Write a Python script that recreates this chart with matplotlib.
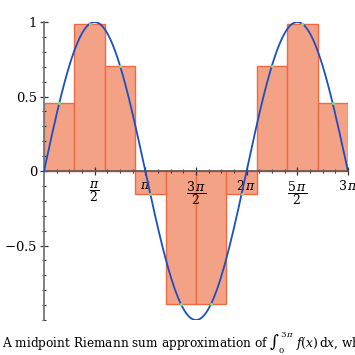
import numpy as np
import matplotlib
matplotlib.use("Agg")
import matplotlib.pyplot as plt
from matplotlib.ticker import FixedLocator, MultipleLocator

plt.rcParams['font.family'] = ['DejaVu Serif']
plt.rcParams['mathtext.fontset'] = 'dejavuserif'

# Data
n_intervals = 10
x_start, x_end = 0.0, 3 * np.pi
bar_heights = [0.454, 0.988, 0.707, -0.156, -0.891, -0.891, -0.156, 0.707, 0.988, 0.454]
xtick_values = [np.pi / 2, np.pi, 3 * np.pi / 2, 2 * np.pi, 5 * np.pi / 2, 3 * np.pi]
xtick_labels = [r'$\dfrac{\pi}{2}$', r'$\pi$', r'$\dfrac{3\,\pi}{2}$', r'$2\,\pi$',
                r'$\dfrac{5\,\pi}{2}$', r'$3\,\pi$']
ytick_values = [-0.5, 0, 0.5, 1]
ytick_labels = [r'$-0.5$', '0', '0.5', '1']

width = (x_end - x_start) / n_intervals
lefts = x_start + width * np.arange(n_intervals)
mids = lefts + width / 2
curve_x = np.linspace(x_start, x_end, 400)
curve_y = np.sin(curve_x)

fig = plt.figure(figsize=(3.55, 3.55), dpi=100)
ax = fig.add_axes([0.124, 0.0986, 0.856, 0.8394])

ax.bar(lefts, bar_heights, width=width, align='edge', color='#f4a286',
       edgecolor='#ef6a42', linewidth=1.0, zorder=1)
ax.plot(curve_x, curve_y, color='#1a4fc4', linewidth=1.3, zorder=3)
ax.scatter(mids, bar_heights, s=5, color='#7fe070', zorder=4, linewidths=0)

ax.set_xlim(x_start, x_end)
ax.set_ylim(-1.0, 1.0)

for s in ['top', 'right']:
    ax.spines[s].set_visible(False)
ax.spines['bottom'].set_position(('data', 0))
ax.spines['left'].set_color('#777777')
ax.spines['bottom'].set_color('#6b5a55')
ax.spines['left'].set_linewidth(1.3)
ax.spines['bottom'].set_linewidth(1.3)

ax.xaxis.set_major_locator(FixedLocator(xtick_values))
ax.set_xticklabels(xtick_labels)
ax.xaxis.set_minor_locator(MultipleLocator(np.pi / 8))
ax.yaxis.set_major_locator(FixedLocator(ytick_values))
ax.set_yticklabels(ytick_labels)
ax.yaxis.set_minor_locator(MultipleLocator(0.1))

ax.tick_params(which='major', direction='inout', length=6, width=0.9,
               color='#333333', labelsize=9.5, pad=2)
ax.tick_params(which='minor', direction='inout', length=3.5, width=0.8,
               color='#333333')
ax.tick_params(axis='x', which='both', labelsize=9, pad=3)
ax.set_facecolor('none')

fig.text(0.006, 0.039,
         r'A midpoint Riemann sum approximation of $\int_{0}^{3\,\pi}\ f\left(x\right)\,\mathrm{d}x$, where $f\left(x\right) = \sin\left(x\right)$',
         fontsize=8.7, va='center', ha='left')

fig.savefig('out.png', dpi=100)
